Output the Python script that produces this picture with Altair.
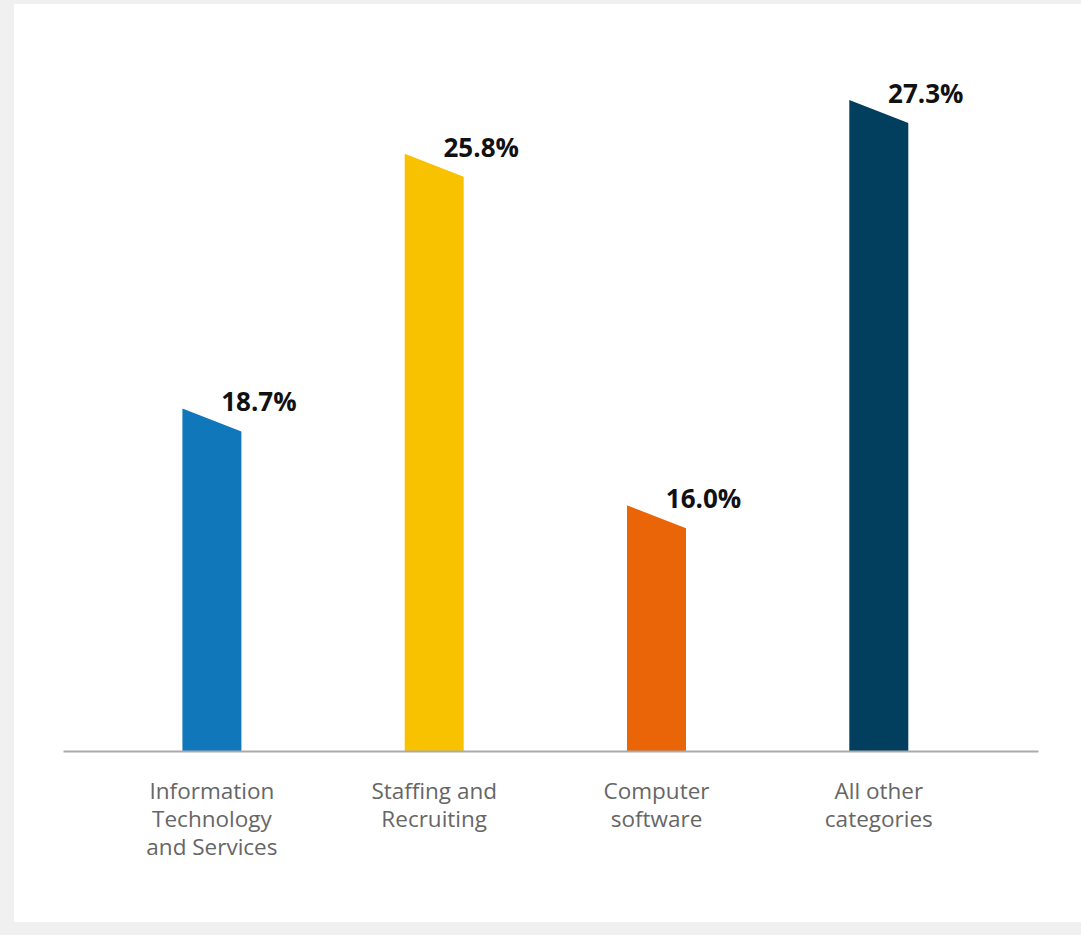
import altair as alt
import pandas as pd

categories = ["Information\nTechnology\nand Services", "Staffing and\nRecruiting",
              "Computer\nsoftware", "All other\ncategories"]
values = [18.7, 25.8, 16.0, 27.3]
labels = ["18.7%", "25.8%", "16.0%", "27.3%"]
colors = ["#1177BB", "#F8C200", "#E96507", "#023E5E"]

BASE = 9.15
TOP = 29.0

df = pd.DataFrame({"category": categories, "value": values, "label": labels})

x_enc = alt.X("category:N", sort=categories,
              scale=alt.Scale(paddingInner=0, paddingOuter=0.193, align=0.44),
              axis=alt.Axis(title=None, labelExpr="split(datum.label, '\\n')",
                            labelAngle=0, labelFont="Open Sans", labelFontSize=22.5,
                            labelColor="#666666", labelLineHeight=28, labelPadding=29,
                            ticks=False, domainColor="#AAAAAA", domainWidth=2,
                            labelBaseline="top", zindex=1, labelOverlap=False))
y_scale = alt.Scale(domain=[BASE, TOP], nice=False, zero=False)

panel = alt.Chart(pd.DataFrame({"p": [0]})).mark_rect(color="white").encode(
    x=alt.value(-49), x2=alt.value(1018), y=alt.value(-35), y2=alt.value(883))

bars = alt.Chart(df).mark_bar(size=59).encode(
    x=x_enc,
    y=alt.Y("value:Q", scale=y_scale, axis=None),
    y2=alt.datum(BASE),
    color=alt.Color("category:N", sort=categories,
                    scale=alt.Scale(domain=categories, range=colors), legend=None),
)

cut = alt.Chart(df).mark_point(
    shape="M -1.1 -0.1 L 1.1 -0.1 L 1.1 0.9 L 1 0.78 L -1 0 Z",
    filled=True, color="white", opacity=1, strokeWidth=0, size=59 * 59,
).encode(x=alt.X("category:N", sort=categories), y=alt.Y("value:Q", scale=y_scale))

text = alt.Chart(df).mark_text(
    align="center", baseline="alphabetic", dx=47, dy=3, font="Open Sans",
    fontWeight="bold", fontSize=26, color="#111111",
).encode(x=alt.X("category:N", sort=categories), y=alt.Y("value:Q", scale=y_scale),
         text="label:N")

chart = alt.layer(panel, bars, cut, text).properties(
    width=975, height=712,
    autosize=alt.AutoSizeParams(type="none"),
    padding={"left": 63, "top": 39, "right": 43, "bottom": 184},
    background="#F0F0F0",
).configure_view(stroke=None)

chart.save("out.html", embed_options={"renderer": "svg", "actions": False})
